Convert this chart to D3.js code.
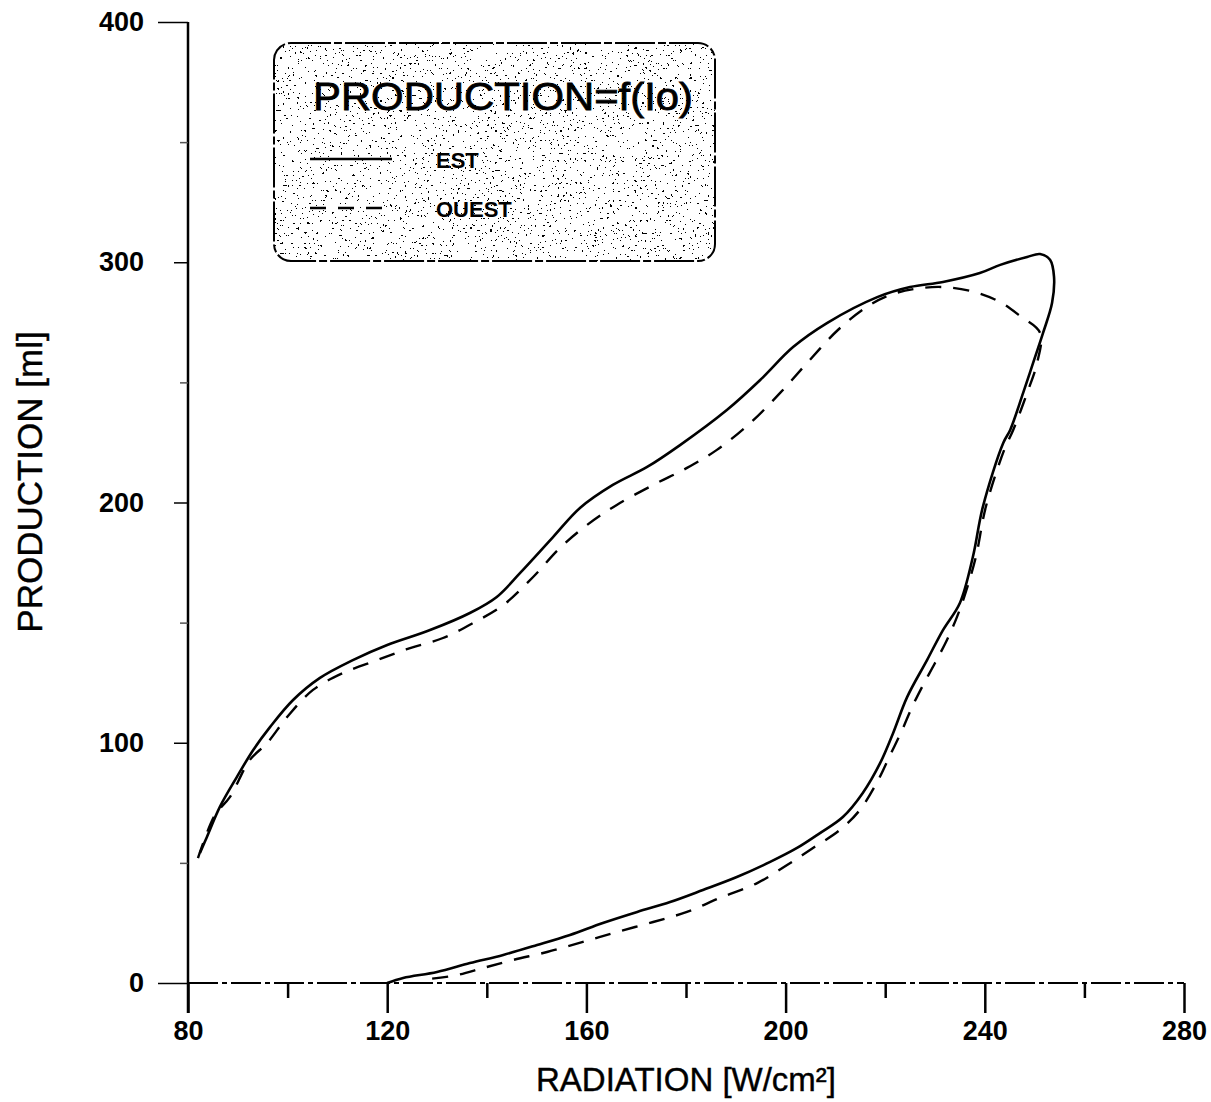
<!DOCTYPE html>
<html><head><meta charset="utf-8">
<script src="https://cdn.jsdelivr.net/npm/d3@7/dist/d3.min.js"></script>
<style>
html,body{margin:0;padding:0;background:#fff;}
svg{display:block;font-family:"Liberation Sans",Arial,sans-serif;}
</style></head><body>
<svg id="chart" width="1211" height="1102"></svg>
<script>
// ---- data ----
const xMajorTicks = [80, 120, 160, 200, 240, 280];
const xMinorTicks = [100, 140, 180, 220, 260];
const yMajorTicks = [0, 100, 200, 300, 400];
const yMinorTicks = [50, 150, 250, 350];

// EST (solid) : upper branch then lower branch
const estX = [82.4,83.8,86.4,89.8,93.1,96.5,101.1,106.5,113.1,120.0,128.6,136.6,142.0,146.7,153.3,158.7,165.3,172.2,178.8,188.2,194.9,201.5,208.3,218.4,225.0,231.6,239.0,243.1,248.5,251.1,253.1,253.9,253.5,251.7,249.7,247.7,245.1,243.7,239.6,237.6,235.0,231.6,228.4,224.4,221.6,219.0,215.5,211.5,206.9,202.3,196.9,190.2,183.4,176.8,170.2,163.3,156.7,150.1,143.3,136.6,130.0,123.2,120.0];
const estY = [54.1,60.8,73.3,85.7,97.0,106.6,117.8,127.0,134.4,140.7,146.9,154.0,160.7,170.7,185.6,197.7,207.3,214.8,223.9,238.5,251.0,264.7,274.7,285.5,289.7,291.8,295.5,298.9,302.2,303.4,301.0,293.9,283.0,270.6,258.1,245.6,230.2,224.8,198.1,177.3,158.2,146.9,134.4,119.0,104.1,91.6,79.1,69.1,62.4,56.2,50.4,44.1,38.7,33.7,29.6,25.0,20.0,15.8,11.7,8.3,4.6,2.1,0.0];

// OUEST (dashed)
const ouestX = [82.0,85.4,88.4,92.4,95.9,99.9,105.1,111.1,118.0,124.6,131.2,137.2,143.3,149.3,154.7,160.1,166.1,173.4,180.2,186.2,192.9,198.9,204.5,210.5,216.3,221.0,226.0,231.6,238.0,243.1,247.1,251.1,250.5,248.5,245.7,243.9,240.2,238.2,236.0,234.4,232.4,230.0,227.6,225.4,223.4,221.0,218.6,214.9,210.9,205.5,200.3,194.3,186.8,180.2,173.4,166.1,159.3,152.1,145.3,139.2,134.0,128.6];
const ouestY = [52.0,69.9,77.4,92.8,99.9,110.7,122.0,129.0,134.4,139.4,143.6,149.8,157.3,169.0,181.1,190.6,199.0,207.3,214.4,221.9,233.1,245.6,258.5,271.8,281.4,286.4,288.9,289.7,287.6,283.4,277.6,270.6,258.1,245.6,230.2,221.9,198.1,177.3,161.5,152.3,142.8,133.2,124.0,114.9,105.3,94.9,84.5,72.0,63.7,56.2,49.1,41.6,35.4,29.6,25.4,21.2,17.1,12.9,9.6,6.2,3.3,1.7];

const seriesNames = ["EST", "OUEST"];
const legendTitle = "PRODUCTION=f(Io)";
const xTitle = "RADIATION [W/cm²]";
const yTitle = "PRODUCTION [ml]";

// ---- layout ----
const svg = d3.select("#chart");
const x = d3.scaleLinear().domain([80, 280]).range([188, 1184]);
const y = d3.scaleLinear().domain([0, 400]).range([983, 22]);

const defs = svg.append("defs");
const filt = defs.append("filter").attr("id", "speckle")
  .attr("x", 0).attr("y", 0).attr("width", "100%").attr("height", "100%");
filt.append("feTurbulence").attr("type", "fractalNoise").attr("baseFrequency", 0.4)
  .attr("numOctaves", 2).attr("seed", 7).attr("result", "n");
filt.append("feColorMatrix").attr("in", "n").attr("type", "matrix")
  .attr("values", "0 0 0 0 0  0 0 0 0 0  0 0 0 0 0  -30 0 0 0 9.4").attr("result", "a");
filt.append("feComponentTransfer").attr("in", "a")
  .append("feFuncA").attr("type", "discrete").attr("tableValues", "0 1");

defs.append("clipPath").attr("id", "legclip")
  .append("rect").attr("x", 274).attr("y", 43).attr("width", 441).attr("height", 218)
  .attr("rx", 17).attr("ry", 17);

// ---- axes ----
const tickFont = "bold 27px 'Liberation Sans', Arial, sans-serif";

// x axis line (scan-broken look)
svg.append("line").attr("x1", x(80)).attr("x2", x(280)).attr("y1", y(0)).attr("y2", y(0))
  .attr("stroke", "#000").attr("stroke-width", 2).attr("stroke-dasharray", "30,4,5,4");

const xMaj = svg.append("g").attr("transform", `translate(0,${y(0)})`)
  .call(d3.axisBottom(x).tickValues(xMajorTicks).tickSize(30).tickPadding(8).tickFormat(d3.format("d")));
xMaj.select(".domain").remove();
xMaj.selectAll(".tick line").attr("stroke", "#000").attr("stroke-width", 2.5);
xMaj.selectAll(".tick text").style("font", tickFont).attr("fill", "#000");

const xMin = svg.append("g").attr("transform", `translate(0,${y(0)})`)
  .call(d3.axisBottom(x).tickValues(xMinorTicks).tickSize(15).tickFormat(""));
xMin.select(".domain").remove();
xMin.selectAll(".tick line").attr("stroke", "#000").attr("stroke-width", 2.5);

// y axis
svg.append("line").attr("x1", x(80)).attr("x2", x(80)).attr("y1", y(400)).attr("y2", y(0) + 30)
  .attr("stroke", "#000").attr("stroke-width", 2.5);

const yMaj = svg.append("g").attr("transform", `translate(${x(80)},0)`)
  .call(d3.axisLeft(y).tickValues(yMajorTicks).tickSize(14).tickPadding(30).tickFormat(d3.format("d")));
yMaj.select(".domain").remove();
yMaj.selectAll(".tick line").attr("stroke", "#000").attr("stroke-width", 1.5)
  .attr("x2", d => (d === 0 || d === 400) ? -30 : -14);
yMaj.selectAll(".tick text").style("font", tickFont).attr("fill", "#000")
  .attr("x", -44);

const yMin = svg.append("g").attr("transform", `translate(${x(80)},0)`)
  .call(d3.axisLeft(y).tickValues(yMinorTicks).tickSize(8).tickFormat(""));
yMin.select(".domain").remove();
yMin.selectAll(".tick line").attr("stroke", "#555").attr("stroke-width", 1.5);

// axis titles
svg.append("text").attr("x", 686).attr("y", 1091).attr("text-anchor", "middle")
  .style("font", "33px 'Liberation Sans', Arial, sans-serif").attr("fill", "#000")
  .attr("stroke", "#000").attr("stroke-width", 0.4).text(xTitle);
svg.append("text").attr("transform", "translate(42,482) rotate(-90)").attr("text-anchor", "middle")
  .style("font", "35px 'Liberation Sans', Arial, sans-serif").attr("fill", "#000")
  .attr("stroke", "#000").attr("stroke-width", 0.4).text(yTitle);

// ---- curves ----
const line = d3.line().x(d => x(d[0])).y(d => y(d[1])).curve(d3.curveCatmullRom.alpha(0.5));
const estData = estX.map((v, i) => [v, estY[i]]);
const ouestData = ouestX.map((v, i) => [v, ouestY[i]]);

svg.append("path").datum(ouestData).attr("d", line).attr("fill", "none")
  .attr("stroke", "#000").attr("stroke-width", 2.4).attr("stroke-dasharray", "16,12");
svg.append("path").datum(estData).attr("d", line).attr("fill", "none")
  .attr("stroke", "#000").attr("stroke-width", 2.6);

// ---- legend ----
const leg = svg.append("g");
leg.append("rect").attr("x", 274).attr("y", 43).attr("width", 441).attr("height", 218)
  .attr("rx", 17).attr("ry", 17).attr("fill", "#fff");
leg.append("rect").attr("x", 274).attr("y", 43).attr("width", 441).attr("height", 218)
  .attr("clip-path", "url(#legclip)").attr("filter", "url(#speckle)").attr("fill", "#000");
leg.append("rect").attr("x", 274).attr("y", 43).attr("width", 441).attr("height", 218)
  .attr("rx", 17).attr("ry", 17).attr("fill", "none").attr("stroke", "#000")
  .attr("stroke-width", 2).attr("stroke-dasharray", "40,3,8,3");

leg.append("text").attr("x", 313).attr("y", 110)
  .attr("textLength", 380).attr("lengthAdjust", "spacingAndGlyphs")
  .style("font", "39px 'Liberation Sans', Arial, sans-serif").attr("fill", "#000")
  .attr("stroke", "#000").attr("stroke-width", 0.8).text(legendTitle);

const legRows = [{name: seriesNames[0], ly: 159, ty: 168, dash: null},
                 {name: seriesNames[1], ly: 208, ty: 217, dash: "16,12"}];
legRows.forEach(r => {
  const l = leg.append("line").attr("x1", 310).attr("x2", 392).attr("y1", r.ly).attr("y2", r.ly)
    .attr("stroke", "#000").attr("stroke-width", 2.4);
  if (r.dash) l.attr("stroke-dasharray", r.dash);
  leg.append("text").attr("x", 436).attr("y", r.ty)
    .style("font", "bold 22px 'Liberation Sans', Arial, sans-serif").attr("fill", "#000").text(r.name);
});
</script></body></html>
